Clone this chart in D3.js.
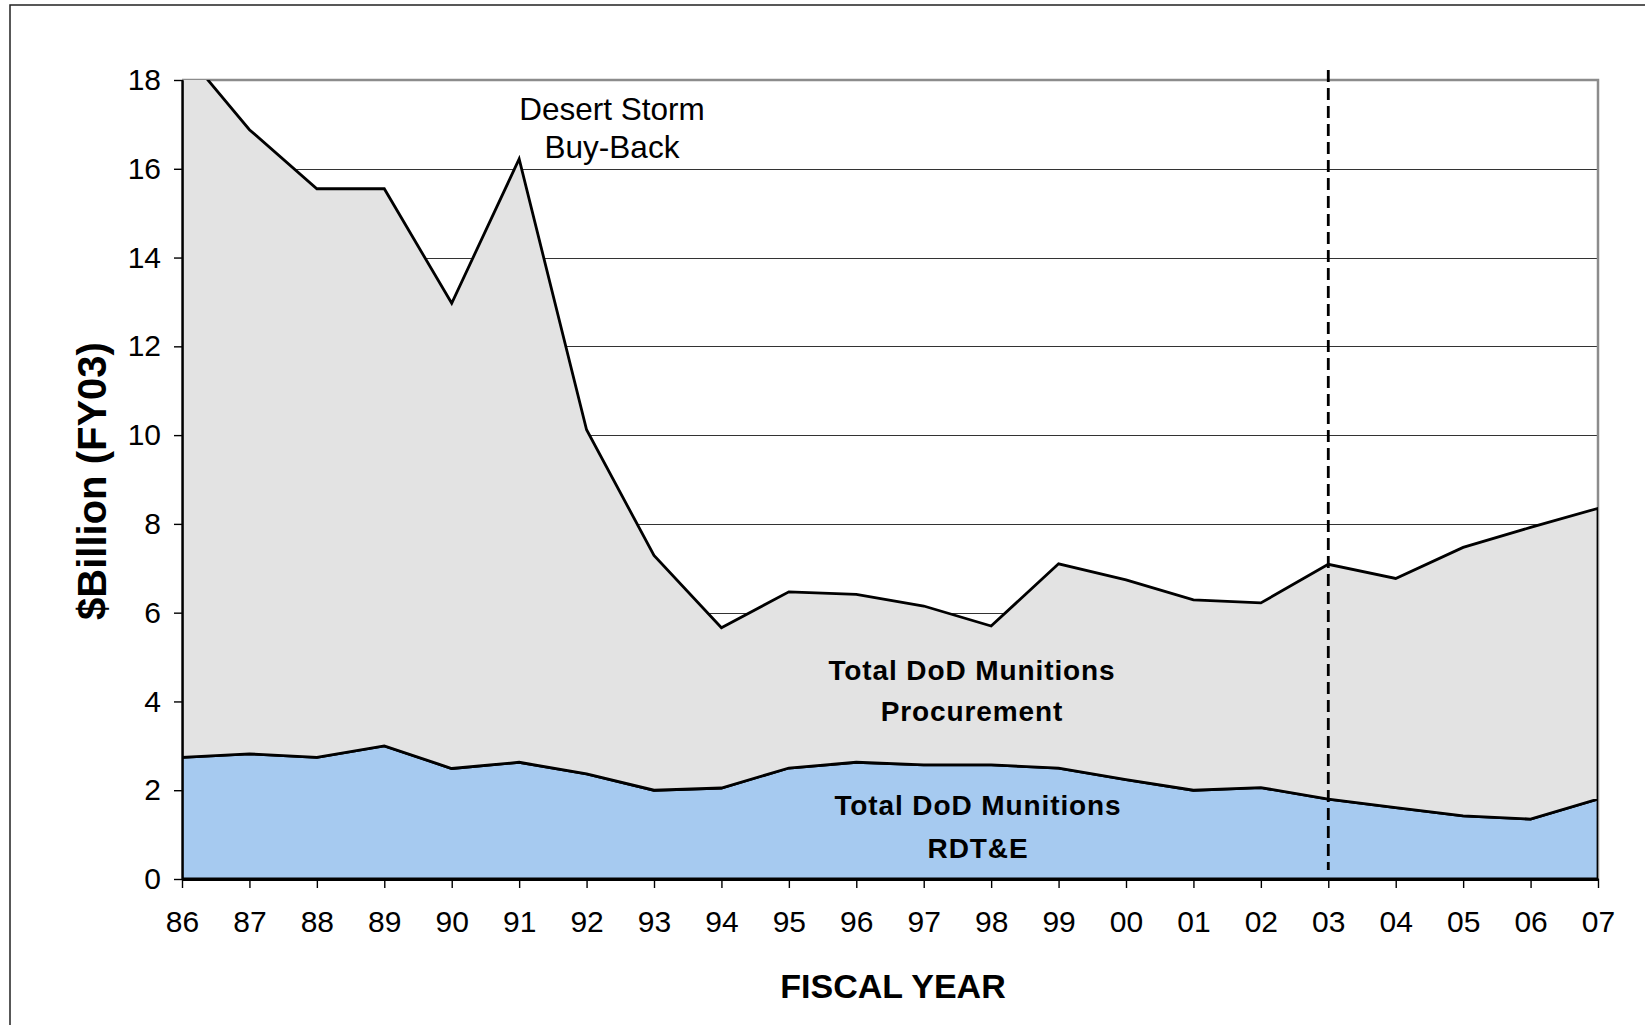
<!DOCTYPE html>
<html>
<head>
<meta charset="utf-8">
<script src="https://cdn.jsdelivr.net/npm/d3@7"></script>
<style>
  body { margin: 0; background: #fff; }
  svg { display: block; font-family: "Liberation Sans", Arial, sans-serif; }
</style>
</head>
<body>
<svg id="chart" width="1645" height="1025"></svg>
<script>
// fiscal years (tick labels)
const years = ['86', '87', '88', '89', '90', '91', '92', '93', '94', '95', '96',
  '97', '98', '99', '00', '01', '02', '03', '04', '05', '06', '07'];

// $Billion (FY03)
const rdte = [2.74, 2.82, 2.74, 3.0, 2.49, 2.63, 2.37, 2.0, 2.05, 2.5, 2.63,
  2.57, 2.57, 2.5, 2.24, 2.0, 2.06, 1.80, 1.61, 1.42, 1.35, 1.80];
const procurement = [15.96, 14.06, 12.81, 12.55, 10.48, 13.59, 7.75, 5.29, 3.61, 3.97, 3.78,
  3.58, 3.13, 4.60, 4.50, 4.29, 4.16, 5.29, 5.16, 6.05, 6.57, 6.55];

const yTicks = [0, 2, 4, 6, 8, 10, 12, 14, 16, 18];
const splitYear = '03';

const margin = { top: 80, right: 47, bottom: 146, left: 182 };
const W = 1645, H = 1025;

const svg = d3.select('#chart');

// outer frame (right / bottom edges run off the page)
svg.append('rect')
  .attr('x', 10).attr('y', 5)
  .attr('width', W).attr('height', H)
  .attr('fill', '#fff')
  .attr('stroke', '#222').attr('stroke-width', 1.5);

const x = d3.scalePoint()
  .domain(years)
  .range([margin.left, W - margin.right]);

const y = d3.scaleLinear()
  .domain([0, 18])
  .range([H - margin.bottom, margin.top]);

const table = years.map((yr, i) => ({ year: yr, rdte: rdte[i], procurement: procurement[i] }));
const series = d3.stack().keys(['rdte', 'procurement'])(table);

svg.append('clipPath').attr('id', 'plot-clip')
  .append('rect')
  .attr('x', x.range()[0]).attr('y', y(18))
  .attr('width', x.range()[1] - x.range()[0])
  .attr('height', y(0) - y(18));

// gridlines
svg.append('g')
  .selectAll('line')
  .data(yTicks.filter(d => d > 0 && d < 18))
  .join('line')
  .attr('x1', x.range()[0]).attr('x2', x.range()[1])
  .attr('y1', d => Math.round(y(d)) + 0.5).attr('y2', d => Math.round(y(d)) + 0.5)
  .attr('stroke', '#333').attr('stroke-width', 1.2);

// plot border, top and right
svg.append('path')
  .attr('d', `M${x.range()[0]},${y(18)}H${x.range()[1]}V${y(0)}`)
  .attr('fill', 'none')
  .attr('stroke', '#8c8c8c').attr('stroke-width', 2.5);

const area = d3.area()
  .x(d => x(d.data.year))
  .y0(d => y(d[0]))
  .y1(d => y(d[1]));

const fills = { rdte: '#A6CAF0', procurement: '#E3E3E3' };

svg.append('g')
  .attr('clip-path', 'url(#plot-clip)')
  .selectAll('path')
  .data(series)
  .join('path')
  .attr('d', d => area(d) + 'Z')
  .attr('fill', d => fills[d.key])
  .attr('stroke', '#000')
  .attr('stroke-width', 2.8)
  .attr('stroke-linejoin', 'miter');

// axes
const yAxis = svg.append('g')
  .attr('transform', `translate(${x.range()[0]},0)`)
  .call(d3.axisLeft(y).tickValues(yTicks).tickSize(8).tickSizeOuter(0).tickPadding(13));

const xAxis = svg.append('g')
  .attr('transform', `translate(0,${y(0)})`)
  .call(d3.axisBottom(x).tickSize(9).tickSizeOuter(0).tickPadding(23));

yAxis.select('.domain').attr('stroke', '#000').attr('stroke-width', 2.4);
xAxis.select('.domain').attr('stroke', '#000').attr('stroke-width', 3);
svg.selectAll('.tick line').attr('stroke', '#000').attr('stroke-width', 1.4);
svg.selectAll('.tick text')
  .attr('font-size', 30)
  .attr('fill', '#000')
  .attr('font-family', '"Liberation Sans", Arial, sans-serif');

// dashed marker at FY03
svg.append('line')
  .attr('x1', x(splitYear)).attr('x2', x(splitYear))
  .attr('y1', 70).attr('y2', 870)
  .attr('stroke', '#000').attr('stroke-width', 2.8)
  .attr('stroke-dasharray', '12,6');

// axis titles
svg.append('text')
  .attr('x', 893).attr('y', 998)
  .attr('text-anchor', 'middle')
  .attr('font-size', 34).attr('font-weight', 'bold')
  .text('FISCAL YEAR');

svg.append('text')
  .attr('transform', 'translate(106,481) rotate(-90)')
  .attr('text-anchor', 'middle')
  .attr('font-size', 40).attr('font-weight', 'bold')
  .text('$Billion (FY03)');

// annotations
const notes = [
  { lines: ['Desert Storm', 'Buy-Back'], x: 612, y: 120, gap: 38, size: 31.5, weight: 'normal', spacing: 0 },
  { lines: ['Total DoD Munitions', 'Procurement'], x: 972, y: 680, gap: 41, size: 28, weight: 'bold', spacing: 0.9 },
  { lines: ['Total DoD Munitions', 'RDT&E'], x: 978, y: 815, gap: 43, size: 28, weight: 'bold', spacing: 0.9 }
];

notes.forEach(n => {
  const t = svg.append('text')
    .attr('text-anchor', 'middle')
    .attr('font-size', n.size)
    .attr('font-weight', n.weight)
    .attr('letter-spacing', n.spacing);
  n.lines.forEach((l, i) => {
    t.append('tspan')
      .attr('x', n.x)
      .attr('y', n.y + i * n.gap)
      .text(l);
  });
});
</script>
</body>
</html>
